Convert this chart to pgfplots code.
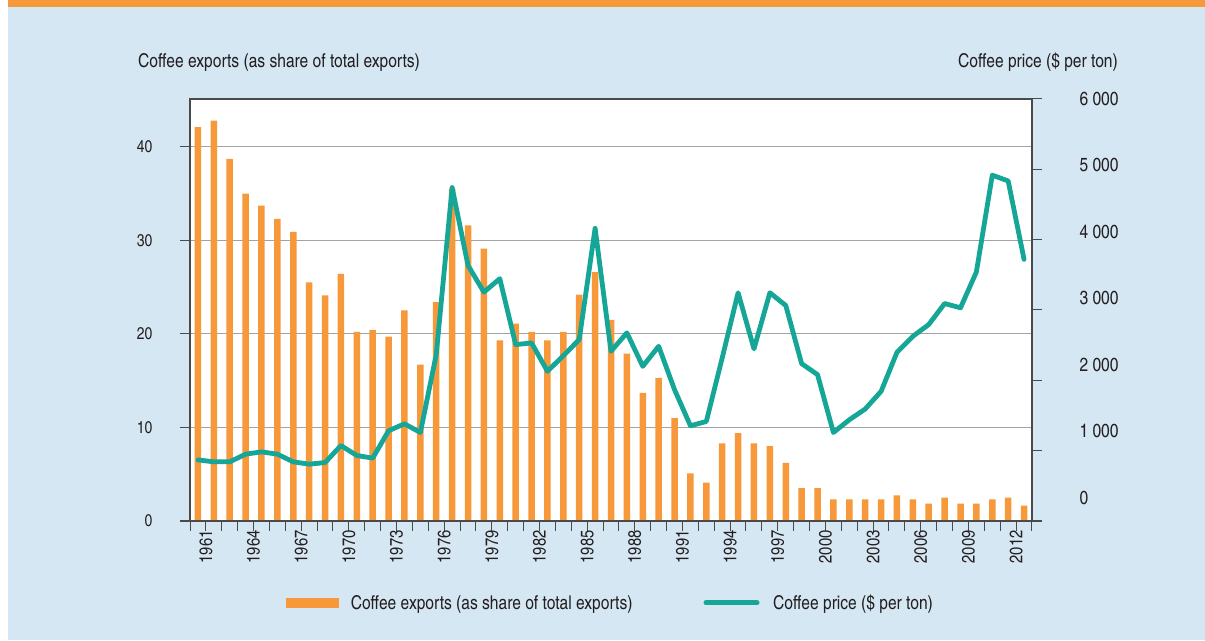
\documentclass[border=0pt]{standalone}
\usepackage{fontspec}
\setmainfont{texgyreheroscn-regular.otf}
\usepackage{pgfplots}
\usepackage{pgfplotstable}
\pgfplotsset{compat=1.18}

\definecolor{bgblue}{HTML}{D6E7F4}
\definecolor{barorange}{HTML}{F7993B}
\definecolor{teal}{HTML}{16A697}
\definecolor{gridgray}{HTML}{A3A3A3}
\definecolor{axisdark}{HTML}{4A4A4A}
\definecolor{txt}{HTML}{231F20}

% year, coffee share of total exports (%), coffee price ($ per ton)
\pgfplotstableread{
year share price
1961 42.1 869
1962 42.8 841
1963 38.7 841
1964 35.0 950
1965 33.7 983
1966 32.3 950
1967 30.9 841
1968 25.5 808
1969 24.1 831
1970 26.4 1073
1971 20.2 931
1972 20.4 894
1973 19.7 1283
1974 22.5 1382
1975 16.7 1258
1976 23.4 2366
1977 35.5 4741
1978 31.6 3634
1979 29.1 3254
1980 19.3 3445
1981 21.1 2508
1982 20.2 2532
1983 19.3 2128
1984 20.2 2351
1985 24.2 2579
1986 26.6 4161
1987 21.5 2413
1988 17.9 2675
1989 13.7 2199
1990 15.3 2484
1991 11.0 1867
1992 5.1 1354
1993 4.1 1415
1994 8.3 2319
1995 9.4 3245
1996 8.3 2447
1997 8.0 3245
1998 6.2 3064
1999 3.5 2237
2000 3.5 2081
2001 2.3 1258
2002 2.3 1439
2003 2.3 1592
2004 2.3 1843
2005 2.75 2398
2006 2.3 2626
2007 1.85 2793
2008 2.5 3092
2009 1.85 3031
2010 1.85 3541
2011 2.3 4917
2012 2.5 4835
2013 1.65 3720
}\coffee

\begin{document}
\begin{tikzpicture}[x=1pt,y=1pt,font=\fontsize{19}{22}\selectfont\color{txt}]
\fill[white] (0,0) rectangle (1205,640);
\fill[bgblue] (8,0) rectangle (1205,633);
\fill[barorange] (8,633) rectangle (1205,640);

\node[anchor=west,inner sep=0] at (138,578) {Coffee exports (as share of total exports)};
\node[anchor=east,inner sep=0] at (1118,578) {Coffee price (\$ per ton)};

% bars, left axis
\begin{axis}[
    at={(190pt,119pt)}, anchor=south west,
    width=842pt, height=422pt, scale only axis,
    xmin=1960.5, xmax=2013.5,
    ymin=0, ymax=45.1,
    axis background/.style={fill=white},
    axis line style={axisdark, line width=1.3pt},
    ytick={0,10,20,30,40},
    ymajorgrids, grid style={gridgray, line width=1pt},
    ytick pos=left, xtick pos=bottom,
    tick align=outside, major tick length=10pt,
    tick style={axisdark, line width=1pt},
    xtick={1960.5,1961.5,...,2013.5}, xticklabels={},
    extra x ticks={1961.5,1964.5,...,2012.5},
    extra x tick labels={1961,1964,1967,1970,1973,1976,1979,1982,1985,1988,1991,1994,1997,2000,2003,2006,2009,2012},
    extra x tick style={major tick length=0pt, grid=none},
    xticklabel style={rotate=90, anchor=east, font=\fontsize{18}{21}\selectfont\color{txt}, xshift=-6pt, yshift=0pt},
    yticklabel style={font=\fontsize{17}{20}\selectfont\color{txt}, xshift=-24pt},
    /pgf/number format/assume math mode=true,
    ybar, bar width=6.5pt,
    legend style={at={(rel axis cs:0.11,-0.194)}, anchor=west, draw=none, fill=none,
      legend columns=2, /tikz/every even column/.append style={column sep=71pt},
      nodes={inner sep=0pt, font=\fontsize{19}{22}\selectfont\color{txt}}},
]
\addplot[fill=barorange, draw=none,
  legend image code/.code={\fill[barorange] (0pt,-5pt) rectangle (53pt,5pt); \path (65pt,0);}]
  table[x=year, y=share] {\coffee};
\addlegendentry{Coffee exports (as share of total exports)}
\addlegendimage{legend image code/.code={\draw[teal, line width=5pt, line cap=round] (3pt,0) -- (54pt,0); \path (70pt,0);}}
\addlegendentry{Coffee price (\$ per ton)}
\end{axis}

% price line, right axis ticks
\begin{axis}[
    at={(190pt,119pt)}, anchor=south west,
    width=842pt, height=422pt, scale only axis,
    xmin=1960.5, xmax=2013.5,
    ymin=0, ymax=6000,
    axis x line=none,
    axis y line*=right,
    axis line style={axisdark, line width=1.3pt},
    ytick={0,1000,...,6000}, yticklabels={},
    tick align=outside, major tick length=10pt,
    tick style={axisdark, line width=1pt},
]
\addplot[teal, line width=4.8pt, line join=round, line cap=round]
  table[x=year, y=price] {\coffee};
\end{axis}

% right axis labels
\begin{axis}[
    at={(190pt,119pt)}, anchor=south west,
    width=842pt, height=422pt, scale only axis,
    xmin=1960.5, xmax=2013.5,
    ymin=-346, ymax=6000,
    axis x line=none,
    axis y line*=right,
    axis line style={draw=none},
    ytick={0,1000,...,6000},
    yticklabels={0,1 000,2 000,3 000,4 000,5 000,6 000},
    major tick length=0pt,
    yticklabel style={anchor=west, xshift=44pt, font=\fontsize{19}{22}\selectfont\color{txt}},
]
\addplot[draw=none] coordinates {(1961,0)};
\end{axis}

\draw[axisdark, line width=1.3pt] (180,119) -- (1042,119);
\end{tikzpicture}
\end{document}
